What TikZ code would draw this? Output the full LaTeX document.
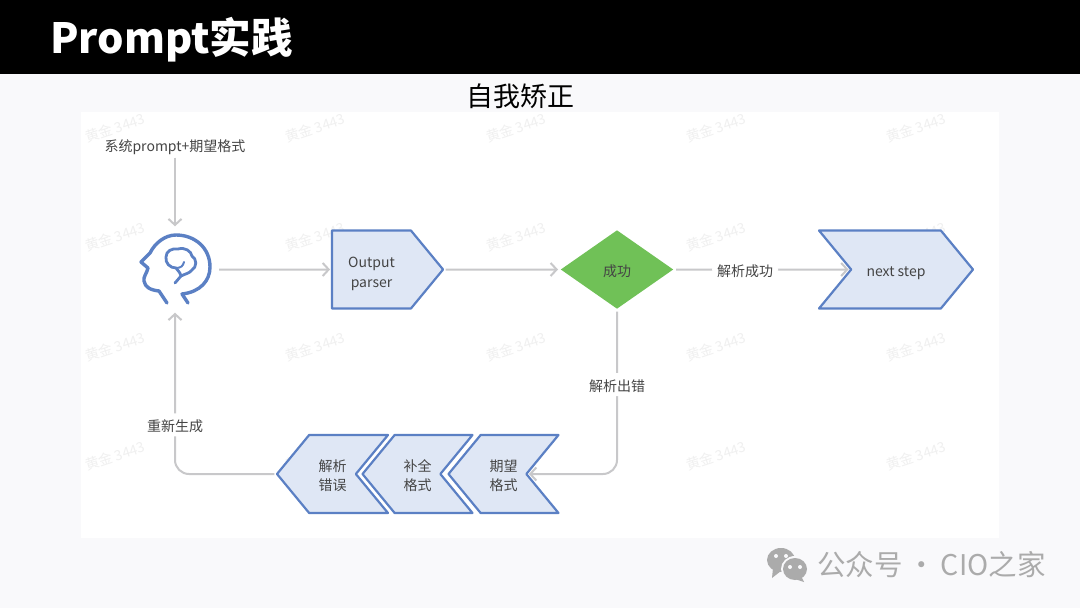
\documentclass[tikz,border=0pt]{standalone}
\usepackage{fontspec}
\setmainfont{Noto Sans CJK SC}
\usetikzlibrary{arrows.meta,shapes.geometric,shapes.symbols}

\definecolor{pagebg}{HTML}{F9F9FB}
\definecolor{boxfill}{HTML}{DFE7F5}
\definecolor{boxline}{HTML}{5B80C4}
\definecolor{okgreen}{HTML}{70C157}
\definecolor{flowgray}{HTML}{C8C8CA}
\definecolor{labelgray}{HTML}{444444}
\definecolor{markgray}{HTML}{ABABAB}

\newcommand{\px}[1]{\fontsize{#1}{#1}\selectfont}

\tikzset{
	flow/.style={draw=flowgray, line width=2pt, rounded corners=14pt, -{Straight Barb[length=6pt, width=13pt, line width=2pt]}},
	label/.style={text=labelgray, font=\px{14}, inner sep=3pt, align=center},
	onflow/.style={label, fill=white, inner sep=5pt, text height=13pt, text depth=0pt},
	chevron/.style={shape=signal, signal pointer angle=101, draw=boxline, line width=2.2pt, line join=round, fill=boxfill, text=labelgray, font=\px{14}, align=center, minimum height=78pt, inner sep=0pt, outer sep=2pt},
	headline/.style={draw=boxline, line width=3.4pt, line cap=round, line join=round},
	stamp/.style={text=black!6, font=\px{14}, rotate=18, inner sep=0pt}
}

\begin{document}
\begin{tikzpicture}[x=1pt, y=-1pt]
	\fill [pagebg] (0, 0) rectangle (1080, 608);
	\fill [white] (81, 112) rectangle (999, 538);
	\fill [black] (0, 0) rectangle (1080, 74);

	\node [text=white, font=\px{41.6}\bfseries, anchor=west, inner sep=0pt] (title) at (50, 40) {Prompt实践};
	\node [text=black, font=\px{27}, inner sep=0pt] (subtitle) at (520, 96) {自我矫正};

	% watermark
	\foreach \row in {128, 237, 347, 456} {
		\foreach \col in {115, 315, 516, 716, 916} {
			\node [stamp] at (\col, \row) {黄金 3443};
		}
	}

	\node [label] (prompt) at (175, 147) {系统prompt+期望格式};
	\node [minimum width=88pt, minimum height=86pt, inner sep=0pt] (head) at (175, 269.5) {};

	% head and brain
	\draw [headline] (188, 303) -- (182, 294) .. controls (200, 292) and (210, 281) .. (210, 267)
		.. controls (210, 248) and (195, 235) .. (176, 235)
		.. controls (165, 235) and (155, 243) .. (150, 253)
		-- (141, 262) -- (148, 268) .. controls (147, 273) and (143, 277) .. (144, 281)
		.. controls (145, 287) and (150, 290) .. (159, 291) -- (167, 303);
	\draw [headline, line width=2.8pt] (175, 283) -- (181, 276) .. controls (180, 272) and (178, 271) .. (176, 268)
		.. controls (170, 268) and (165, 263) .. (166, 257)
		.. controls (166, 251) and (172, 248) .. (178, 249)
		.. controls (185, 247) and (191, 251) .. (192, 256)
		.. controls (197, 259) and (197, 267) .. (192, 270)
		.. controls (190, 273) and (185, 274) .. (181, 276);
	\draw [headline, line width=2pt] (176, 268) .. controls (181, 268) and (183, 266) .. (184, 262);

	\node [chevron, signal to=east, minimum width=111pt] (output) at (371.5, 269.5) {\rule{0pt}{20pt}Output\\[6pt]parser};
	\node [shape=diamond, aspect=1.425, fill=okgreen, text=labelgray, font=\px{14}, minimum width=114pt, minimum height=80pt, inner sep=0pt, outer sep=2pt, text height=13pt, text depth=0pt] (success) at (617, 269.5) {成功};
	\node [chevron, signal from=west, signal to=east, minimum width=154pt, text height=13pt, text depth=0pt] (next) at (896, 269.5) {next step};

	\node [chevron, signal from=east, signal to=west, minimum width=110pt] (format) at (503.5, 474) {\rule{0pt}{16pt}期望\\[5pt]格式};
	\node [chevron, signal from=east, signal to=west, minimum width=110pt] (complete) at (417.5, 474) {\rule{0pt}{16pt}补全\\[5pt]格式};
	\node [chevron, signal from=east, signal to=west, minimum width=111pt] (error) at (332.5, 474) {\rule{0pt}{16pt}解析\\[5pt]错误};

	\draw [flow] (prompt) -- (head);
	\draw [flow] (head) -- (output);
	\draw [flow] (output) -- (success);
	\draw [flow] (success) -- node [onflow, pos=0.4] {解析成功} (next);
	\draw [flow] (success) -- node [onflow, pos=0.45] {解析出错} (success |- format) -- (format);
	\draw [flow] (error) -- (head |- error) -- node [onflow, pos=0.305] {重新生成} (head);

	% wechat mark
	\fill [markgray] (781, 560) ellipse [x radius=14, y radius=12];
	\fill [markgray] (773, 568) -- (772, 578) -- (781, 571) -- cycle;
	\fill [pagebg] (795, 569) ellipse [x radius=14, y radius=13];
	\fill [markgray] (795, 569) ellipse [x radius=12, y radius=11];
	\fill [markgray] (801, 576) -- (804, 582) -- (795, 579) -- cycle;
	\foreach \eye in {(776, 556), (786, 556), (790, 567), (800, 567)} {
		\fill [pagebg] \eye circle [radius=2];
	}
	\node [text=markgray, font=\px{28.5}, anchor=west, inner sep=0pt] (brand) at (817, 565) {公众号\hspace{-2pt} · \hspace{-1pt}CIO之家};
\end{tikzpicture}
\end{document}
